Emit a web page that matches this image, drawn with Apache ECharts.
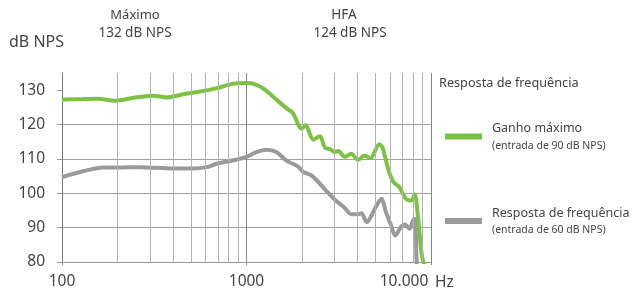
<!DOCTYPE html>
<html>
<head>
<meta charset="utf-8">
<script src="https://cdn.jsdelivr.net/npm/echarts@6/dist/echarts.min.js"></script>
<style>
  html, body { margin: 0; padding: 0; background: #fff; }
  #chart { width: 635px; height: 295px; }
</style>
</head>
<body>
<div id="chart"></div>
<script>
// 数据
var seriesNames = ['Ganho máximo', 'Resposta de frequência'];
var seriesNotes = ['(entrada de 90 dB NPS)', '(entrada de 60 dB NPS)'];

var ganhoFreq = [100, 130, 155, 195, 245, 310, 370, 455, 560, 690, 850, 1000, 1085, 1230, 1450, 1650, 1780, 1990, 2090, 2300, 2500, 2660, 2840, 3000, 3150, 3400, 3700, 4020, 4350, 4700, 5240, 5470, 5850, 6250, 6740, 7310, 7830, 8150, 8500, 8900, 9200];
var ganhoVal = [127.3, 127.4, 127.5, 126.9, 127.8, 128.4, 127.9, 128.8, 129.6, 130.6, 131.9, 132.1, 131.9, 130.5, 127.3, 124.7, 123.4, 118.8, 119.8, 115.6, 116.6, 113.3, 112.8, 112.0, 112.3, 110.6, 111.5, 109.7, 111.0, 110.2, 114.3, 113.2, 107.2, 103.3, 101.8, 98.4, 97.9, 99.7, 93.1, 82.4, 79];

var respFreq = [100, 130, 167, 195, 265, 400, 513, 610, 690, 850, 1000, 1130, 1290, 1450, 1640, 1780, 1900, 2030, 2250, 2700, 3000, 3400, 3700, 4020, 4200, 4480, 4960, 5380, 5700, 6080, 6410, 6880, 7230, 7660, 8090, 8250, 8330, 8380];
var respVal = [104.7, 106.4, 107.5, 107.5, 107.6, 107.2, 107.2, 107.6, 108.6, 109.6, 110.6, 112.0, 112.7, 112.0, 109.6, 108.6, 107.8, 106.2, 105.2, 100.8, 98.2, 95.8, 93.9, 93.9, 94.2, 91.6, 95.5, 98.4, 94.5, 90.6, 87.7, 90.3, 90.9, 89.7, 92.6, 92.1, 82, 79];

var yTicks = [80, 90, 100, 110, 120, 130];
var minorFreq = [200, 300, 400, 500, 600, 700, 800, 900, 2000, 3000, 4000, 5000, 6000, 7000, 8000, 9000];
var xLabels = { 100: '100', 1000: '1000', 10000: '10.000' };

function pairs (xs, ys) {
  return xs.map(function (x, i) { return [x, ys[i]]; });
}

var font = '"Noto Sans", sans-serif';
var txt = '#444';

// 1. 实例化对象
const myChart = echarts.init(document.getElementById('chart'));
// 2.指定配置
const option = {
  animation: false,
  color: ['#7cc242', '#9a9a9a'],
  textStyle: { fontFamily: font },
  grid: { left: 62, right: 204, top: 73, bottom: 33 },
  legend: {
    data: seriesNames,
    orient: 'vertical',
    left: 445,
    top: 122,
    padding: 0,
    itemWidth: 37,
    itemHeight: 6,
    itemGap: 55,
    icon: 'rect',
    selectedMode: false,
    formatter: function (name) {
      return '{a|' + name + '}\n{b|' + seriesNotes[seriesNames.indexOf(name)] + '}';
    },
    textStyle: {
      padding: [0, 0, 0, 5],
      rich: {
        a: { fontSize: 12.5, color: txt, lineHeight: 19, fontFamily: font },
        b: { fontSize: 10.5, color: txt, lineHeight: 16, fontFamily: font }
      }
    }
  },
  xAxis: {
    type: 'log',
    logBase: 10,
    min: 100,
    max: 10000,
    axisLine: { lineStyle: { color: '#999', width: 1 } },
    axisTick: { length: 3, lineStyle: { color: '#888' } },
    axisLabel: {
      margin: 12,
      fontSize: 15.5,
      color: txt,
      formatter: function (v) {
        var s = xLabels[Math.round(v)] || '';
        return Math.round(v) === 10000 ? '{r|' + s + '}' : s;
      },
      rich: { r: { fontSize: 15.5, color: txt, padding: [0, 54, 0, 0], fontFamily: font } }
    },
    splitLine: { show: true, lineStyle: { color: '#858585', width: 1 } }
  },
  yAxis: {
    type: 'value',
    min: 80,
    max: 135,
    interval: 10,
    axisLine: { show: true, lineStyle: { color: '#777', width: 1 } },
    axisTick: { show: true, length: 5, customValues: yTicks, lineStyle: { color: '#999' } },
    axisLabel: { customValues: yTicks, margin: 17, fontSize: 15.5, color: txt },
    splitLine: { show: true, showMaxLine: false, lineStyle: { color: '#a0a0a0', width: 1 } }
  },
  graphic: [
    { type: 'text', left: 9, top: 34, style: { text: 'dB NPS', font: '16px ' + font, fill: txt } },
    { type: 'text', x: 135, y: 15, style: { text: 'Máximo', font: '13px ' + font, fill: txt, textAlign: 'center', textVerticalAlign: 'middle' } },
    { type: 'text', x: 135, y: 33, style: { text: '132 dB NPS', font: '13.5px ' + font, fill: txt, textAlign: 'center', textVerticalAlign: 'middle' } },
    { type: 'text', x: 344, y: 15, style: { text: 'HFA', font: '13.5px ' + font, fill: txt, textAlign: 'center', textVerticalAlign: 'middle' } },
    { type: 'text', x: 350, y: 33, style: { text: '124 dB NPS', font: '13.5px ' + font, fill: txt, textAlign: 'center', textVerticalAlign: 'middle' } },
    { type: 'text', x: 439, y: 83, style: { text: 'Resposta de frequência', font: '12.7px ' + font, fill: txt, textVerticalAlign: 'middle' } },
    { type: 'text', x: 435, y: 283, style: { text: 'Hz', font: '15.5px ' + font, fill: txt, textVerticalAlign: 'middle' } }
  ],
  series: [
    {
      // 次刻度网格线
      name: 'grade',
      type: 'line',
      data: [],
      z: 1,
      silent: true,
      markLine: {
        silent: true,
        symbol: ['none', 'none'],
        label: { show: false },
        emphasis: { disabled: true },
        lineStyle: { color: '#b2b2b2', width: 1, type: 'solid' },
        data: minorFreq.map(function (f) { return { xAxis: f }; })
      }
    },
    {
      name: seriesNames[1],
      type: 'line',
      z: 3,
      smooth: 0.3,
      showSymbol: false,
      lineStyle: { width: 4 },
      data: pairs(respFreq, respVal)
    },
    {
      name: seriesNames[0],
      type: 'line',
      z: 4,
      smooth: 0.3,
      showSymbol: false,
      lineStyle: { width: 4 },
      data: pairs(ganhoFreq, ganhoVal)
    }
  ]
};
// 3. 把配置给实例对象
myChart.setOption(option);
window.addEventListener('resize', function () {
  myChart.resize();
});
</script>
</body>
</html>
